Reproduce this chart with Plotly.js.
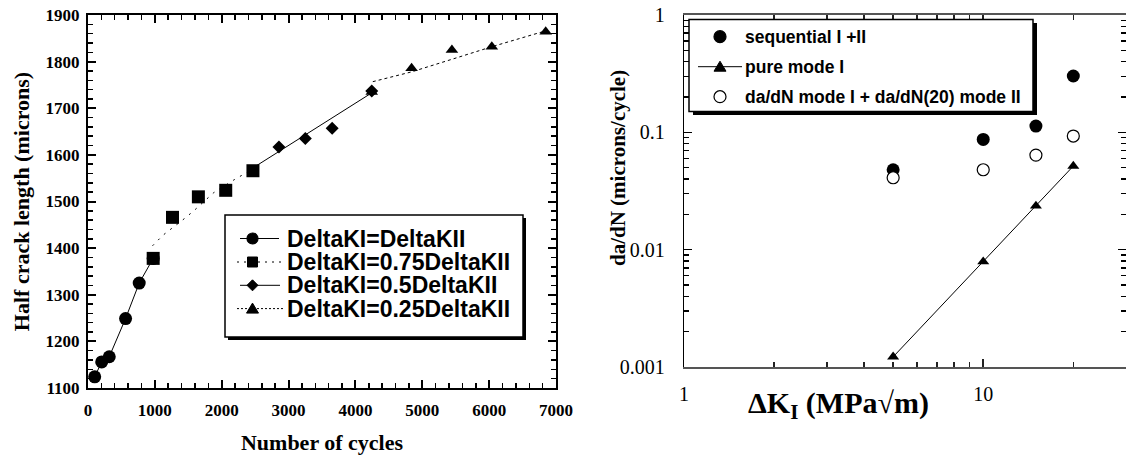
<!DOCTYPE html>
<html>
<head>
<meta charset="utf-8">
<script src="https://cdn.plot.ly/plotly-3.0.1.min.js"></script>
<style>html,body{margin:0;padding:0;background:#fff;}#chart{width:1126px;height:455px;}</style>
</head>
<body>
<div id="chart"></div>
<script>
// ---------- Left chart data: half crack length vs number of cycles ----------
const circX = [100, 205, 318, 562, 766, 975];
const circY = [1124, 1156, 1167, 1249, 1325, 1378];
const sqX = [975, 1264, 1651, 2060, 2467];
const sqY = [1378, 1466, 1510, 1524, 1566];
const sqFitX = [965, 1124, 1448, 1582, 1881, 2179, 2467];
const sqFitY = [1405, 1428, 1464, 1480, 1519, 1546, 1570];
const diaX = [2856, 3250, 3652, 4244];
const diaY = [1617, 1635, 1657, 1737];
const diaFitX = [2467, 4244];
const diaFitY = [1572, 1733];
const triX = [4244, 4840, 5443, 6040, 6846];
const triY = [1735, 1786, 1825, 1832, 1864];
const triFitX = [4260, 4840, 5443, 6040, 6846];
const triFitY = [1757, 1778, 1805, 1832, 1866];
const leftNames = ["DeltaKI=DeltaKII", "DeltaKI=0.75DeltaKII", "DeltaKI=0.5DeltaKII", "DeltaKI=0.25DeltaKII"];

// ---------- Right chart data: da/dN vs Delta K_I ----------
const dK = [5, 10, 15, 20];
const seqRate = [0.048, 0.087, 0.113, 0.302];
const pureRate = [0.00122, 0.0079, 0.0236, 0.0516];
const combRate = [0.041, 0.048, 0.064, 0.093];
const rightNames = ["sequential I +II", "pure mode I", "da/dN mode I + da/dN(20) mode II"];
const rightYTickVals = [0.001, 0.01, 0.1, 1];
const rightYTickText = ["0.001", "0.01", "0.1", "1"];

const W = 1126, H = 455;
const px = x => x / W;
const py = y => 1 - y / H;

const SERIF = "Liberation Serif, Times New Roman, serif";
const SANS = "Liberation Sans, Arial, sans-serif";
const BLK = "#000";

const traces = [
  {x: circX, y: circY, xaxis: "x", yaxis: "y", mode: "lines+markers", name: leftNames[0],
   line: {color: BLK, width: 1}, marker: {symbol: "circle", size: 13, color: BLK}},
  {x: sqFitX, y: sqFitY, xaxis: "x", yaxis: "y", mode: "lines", name: leftNames[1] + " fit",
   line: {color: BLK, width: 1, dash: "2px,6px"}},
  {x: sqX, y: sqY, xaxis: "x", yaxis: "y", mode: "markers", name: leftNames[1],
   marker: {symbol: "square", size: 13, color: BLK}},
  {x: diaFitX, y: diaFitY, xaxis: "x", yaxis: "y", mode: "lines", name: leftNames[2] + " fit",
   line: {color: BLK, width: 1}},
  {x: diaX, y: diaY, xaxis: "x", yaxis: "y", mode: "markers", name: leftNames[2],
   marker: {symbol: "diamond", size: 10, color: BLK}},
  {x: triFitX, y: triFitY, xaxis: "x", yaxis: "y", mode: "lines", name: leftNames[3] + " fit",
   line: {color: BLK, width: 1, dash: "3px,3px"}},
  {x: triX, y: triY, xaxis: "x", yaxis: "y", mode: "markers", name: leftNames[3],
   marker: {symbol: "triangle-up", size: 11, color: BLK}},
  {x: dK, y: seqRate, xaxis: "x2", yaxis: "y2", mode: "markers", name: rightNames[0],
   marker: {symbol: "circle", size: 13, color: BLK}},
  {x: dK, y: pureRate, xaxis: "x2", yaxis: "y2", mode: "lines+markers", name: rightNames[1],
   line: {color: BLK, width: 1}, marker: {symbol: "triangle-up", size: 10.5, color: BLK}},
  {x: dK, y: combRate, xaxis: "x2", yaxis: "y2", mode: "markers", name: rightNames[2],
   marker: {symbol: "circle", size: 12, color: "#fff", line: {color: BLK, width: 1.2}}}
];
traces.forEach(t => t.showlegend = false);

// ---------- manual legends (pixel positions converted to paper) ----------
const shapes = [];
const annotations = [];
function rectPx(x0, y0, x1, y1, fill, lineW) {
  shapes.push({type: "rect", xref: "paper", yref: "paper", x0: px(x0), x1: px(x1), y0: py(y1), y1: py(y0),
    fillcolor: fill, line: {color: BLK, width: lineW}});
}
function linePx(x0, x1, y, dash) {
  shapes.push({type: "line", xref: "paper", yref: "paper", x0: px(x0), x1: px(x1), y0: py(y), y1: py(y),
    line: {color: BLK, width: 1, dash: dash || "solid"}});
}
function circlePx(cx, cy, r, fill) {
  shapes.push({type: "circle", xref: "paper", yref: "paper", x0: px(cx - r), x1: px(cx + r), y0: py(cy + r), y1: py(cy - r),
    fillcolor: fill, line: {color: BLK, width: 1.2}});
}
function pathPx(pts) {
  const d = pts.map((p, i) => (i ? "L" : "M") + px(p[0]) + "," + py(p[1])).join(" ") + " Z";
  shapes.push({type: "path", xref: "paper", yref: "paper", path: d, fillcolor: BLK, line: {color: BLK, width: 1}});
}
function textPx(x, y, txt, size, family, angle, anchor) {
  annotations.push({xref: "paper", yref: "paper", x: px(x), y: py(y), xanchor: anchor || "left", yanchor: "middle",
    text: txt, showarrow: false, textangle: angle || 0, font: {family: family || SANS, size: size, color: BLK, weight: "bold"}});
}

// Left legend
rectPx(228, 218, 526, 340, BLK, 0);
rectPx(225, 215, 523, 337, "#fff", 1.5);
const lRows = [238.5, 262, 285.3, 308.6];
const lSymX = 252.5;
linePx(240, 279, lRows[0]); circlePx(lSymX, lRows[0], 5.5, BLK);
linePx(237, 283, lRows[1], "2px,5px"); rectPx(lSymX - 5, lRows[1] - 5, lSymX + 5, lRows[1] + 5, BLK, 1);
linePx(240, 280, lRows[2]); pathPx([[lSymX - 5.5, lRows[2]], [lSymX, lRows[2] - 5.5], [lSymX + 5.5, lRows[2]], [lSymX, lRows[2] + 5.5]]);
linePx(237, 283, lRows[3], "2px,2px"); pathPx([[lSymX - 6, lRows[3] + 4.5], [lSymX + 6, lRows[3] + 4.5], [lSymX, lRows[3] - 5.5]]);
leftNames.forEach((n, i) => textPx(285, lRows[i], n, 23));

// Right legend
rectPx(693, 23, 1037, 115, BLK, 0);
rectPx(689, 19.5, 1033, 111.5, "#fff", 1.5);
const rRows = [36.7, 66.7, 96.7];
const rSymX = 720;
circlePx(rSymX, rRows[0], 6, BLK);
linePx(698, 742, rRows[1]); pathPx([[rSymX - 6, rRows[1] + 4.5], [rSymX + 6, rRows[1] + 4.5], [rSymX, rRows[1] - 5.5]]);
circlePx(rSymX, rRows[2], 6, "#fff");
rightNames.forEach((n, i) => textPx(743, rRows[i], n, 17.5));

// right-plot axis titles (they sit inside the tick-label band, so placed as annotations)
textPx(838, 405, "ΔK<sub>I</sub> (MPa√m)", 30, SERIF, 0, "center");
textPx(618, 168, "da/dN (microns/cycle)", 21, SERIF, -90, "center");

const leftTick = {family: SERIF, size: 17, color: BLK, weight: "bold"};
const titleFontL = {family: SERIF, size: 22, color: BLK, weight: "bold"};

const layout = {
  width: W, height: H,
  margin: {l: 0, r: 0, t: 0, b: 0},
  paper_bgcolor: "#fff", plot_bgcolor: "rgba(0,0,0,0)",
  showlegend: false,
  xaxis: {
    domain: [px(88), px(556)], anchor: "y", range: [0, 7000], tickmode: "linear", tick0: 0, dtick: 1000,
    ticks: "inside", ticklen: 8, tickwidth: 2, tickcolor: BLK,
    minor: {dtick: 200, ticks: "inside", ticklen: 5, tickwidth: 1.5, tickcolor: BLK},
    showline: true, linecolor: BLK, linewidth: 2, mirror: "allticks",
    showgrid: false, zeroline: false, tickfont: leftTick, ticklabelstandoff: 6,
    title: {text: "Number of cycles", font: titleFontL, standoff: 29}
  },
  yaxis: {
    domain: [py(388), py(15)], anchor: "x", range: [1100, 1900], tickmode: "linear", tick0: 1100, dtick: 100,
    ticks: "inside", ticklen: 8, tickwidth: 2, tickcolor: BLK,
    minor: {dtick: 20, ticks: "inside", ticklen: 5, tickwidth: 1.5, tickcolor: BLK},
    showline: true, linecolor: BLK, linewidth: 2, mirror: "allticks",
    showgrid: false, zeroline: false, tickfont: leftTick, ticklabelstandoff: 3,
    title: {text: "Half crack length (microns)", font: titleFontL, standoff: 10}
  },
  xaxis2: {
    type: "log", domain: [px(684), 1], anchor: "y2", range: [0, Math.log10(30)], tickmode: "linear", tick0: 0, dtick: 1,
    ticks: "inside", ticklen: 8, tickwidth: 1.5, tickcolor: "#222",
    minor: {dtick: "D1", ticks: "inside", ticklen: 5, tickwidth: 1.5, tickcolor: "#222"},
    showline: true, linecolor: "#555", linewidth: 2, mirror: "allticks",
    showgrid: false, zeroline: false, tickfont: {family: SERIF, size: 20, color: BLK}, ticklabelstandoff: 8
  },
  yaxis2: {
    type: "log", domain: [py(367), py(15)], anchor: "x2", range: [-3, 0], tickmode: "array",
    tickvals: rightYTickVals, ticktext: rightYTickText,
    ticks: "inside", ticklen: 8, tickwidth: 1.5, tickcolor: BLK,
    minor: {dtick: "D1", ticks: "inside", ticklen: 5, tickwidth: 1.5, tickcolor: BLK},
    showline: true, linecolor: BLK, linewidth: 1.2, mirror: "allticks",
    showgrid: false, zeroline: false, tickfont: {family: SERIF, size: 20, color: BLK}, ticklabelstandoff: 14
  },
  shapes: shapes,
  annotations: annotations
};

Plotly.newPlot("chart", traces, layout, {staticPlot: true, displayModeBar: false});
</script>
</body>
</html>
